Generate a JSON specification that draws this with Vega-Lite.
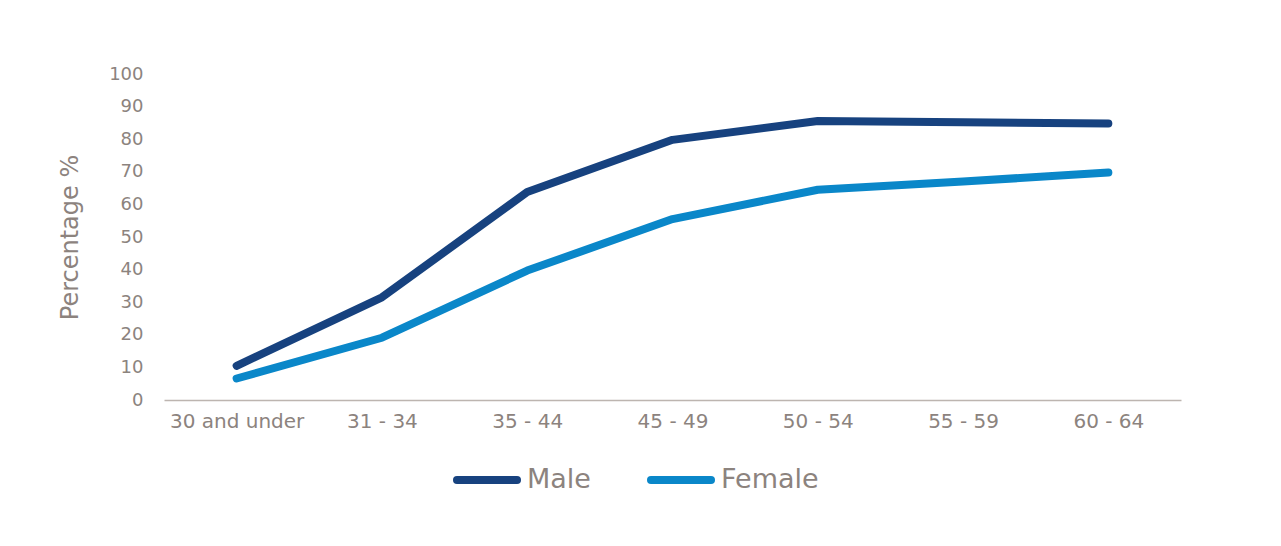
{
  "$schema": "https://vega.github.io/schema/vega-lite/v6.json",
  "width": 1017,
  "height": 326,
  "autosize": {"type": "none"},
  "padding": {"left": 164, "top": 74, "right": 100, "bottom": 146},
  "background": "white",
  "config": {"view": {"stroke": null}, "font": "DejaVu Sans"},
  "data": {"values": [
    {"age": "30 and under", "sex": "Male", "pct": 10.5},
    {"age": "31 - 34", "sex": "Male", "pct": 31.5},
    {"age": "35 - 44", "sex": "Male", "pct": 63.8},
    {"age": "45 - 49", "sex": "Male", "pct": 79.8},
    {"age": "50 - 54", "sex": "Male", "pct": 85.6},
    {"age": "55 - 59", "sex": "Male", "pct": 85.2},
    {"age": "60 - 64", "sex": "Male", "pct": 84.8},
    {"age": "30 and under", "sex": "Female", "pct": 6.6},
    {"age": "31 - 34", "sex": "Female", "pct": 19.1},
    {"age": "35 - 44", "sex": "Female", "pct": 39.7},
    {"age": "45 - 49", "sex": "Female", "pct": 55.5},
    {"age": "50 - 54", "sex": "Female", "pct": 64.5},
    {"age": "55 - 59", "sex": "Female", "pct": 67.0},
    {"age": "60 - 64", "sex": "Female", "pct": 69.8}
  ]},
  "mark": {"type": "line", "strokeWidth": 8, "strokeCap": "round", "strokeJoin": "round"},
  "encoding": {
    "x": {
      "field": "age", "type": "ordinal", "sort": null,
      "scale": {"type": "point", "padding": 0.5},
      "axis": {
        "title": null, "labelAngle": 0, "labelFontSize": 20, "labelColor": "#8c837e",
        "domainColor": "#bdb5b0", "domainWidth": 1.5, "ticks": false, "labelPadding": 11,
        "grid": false
      }
    },
    "y": {
      "field": "pct", "type": "quantitative",
      "scale": {"domain": [0, 100], "nice": false},
      "axis": {
        "title": "Percentage %", "titleFontSize": 24, "titleFontWeight": "normal", "titleColor": "#8c837e",
        "titlePadding": 26,
        "values": [0, 10, 20, 30, 40, 50, 60, 70, 80, 90, 100],
        "labelFontSize": 18, "labelColor": "#8c837e", "labelPadding": 21,
        "domain": false, "ticks": false, "grid": false
      }
    },
    "color": {
      "field": "sex", "type": "nominal", "sort": ["Male", "Female"],
      "scale": {"domain": ["Male", "Female"], "range": ["#17427f", "#0a87c9"]},
      "legend": {
        "title": null, "orient": "none", "direction": "horizontal",
        "legendX": 289, "legendY": 372,
        "symbolType": "stroke", "symbolSize": 3600, "symbolStrokeWidth": 8,
        "labelFontSize": 27, "labelColor": "#8c837e", "labelOffset": 6,
        "columnPadding": 44,
        "encode": {"symbols": {"update": {"strokeCap": {"value": "round"}}}}
      }
    }
  }
}
